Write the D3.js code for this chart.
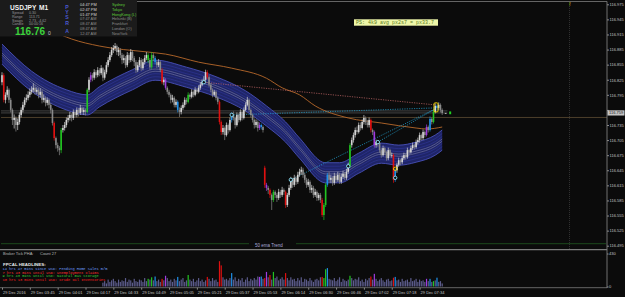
<!DOCTYPE html>
<html>
<head>
<meta charset="utf-8">
<script src="https://cdn.jsdelivr.net/npm/d3@7"></script>
<style>
  body { margin: 0; background: #0b0b0b; overflow: hidden; }
  svg { display: block; }
</style>
</head>
<body>
<svg id="target"></svg>
<script>
// USDJPY M1, 29 Dec 2016 from 03:29 - one entry per bar
const open = [
116.820,116.834,116.785,116.795,116.805,116.785,116.765,116.745,116.749,116.735,
116.741,116.755,116.765,116.775,116.785,116.789,116.795,116.801,116.805,116.809,
116.801,116.805,116.795,116.801,116.785,116.789,116.779,116.785,116.775,116.765,
116.739,116.709,116.695,116.689,116.685,116.725,116.729,116.735,116.745,116.749,
116.755,116.749,116.761,116.755,116.765,116.759,116.769,116.761,116.765,116.761,
116.805,116.825,116.834,116.829,116.840,116.834,116.844,116.838,116.848,116.829,
116.840,116.854,116.864,116.874,116.884,116.888,116.892,116.880,116.884,116.874,
116.864,116.868,116.854,116.874,116.864,116.880,116.868,116.860,116.844,116.854,
116.864,116.848,116.860,116.868,116.874,116.864,116.850,116.874,116.868,116.860,
116.854,116.860,116.844,116.820,116.825,116.809,116.801,116.795,116.785,116.789,
116.775,116.781,116.765,116.761,116.769,116.775,116.785,116.781,116.795,116.791,
116.801,116.795,116.805,116.801,116.809,116.815,116.821,116.825,116.840,116.830,
116.815,116.805,116.795,116.801,116.789,116.781,116.741,116.721,116.729,116.715,
116.735,116.725,116.745,116.755,116.749,116.735,116.755,116.745,116.761,116.749,
116.765,116.775,116.785,116.765,116.755,116.745,116.735,116.741,116.729,116.735,
116.731,116.650,116.616,116.610,116.606,116.596,116.586,116.602,116.596,116.590,
116.602,116.596,116.606,116.602,116.576,116.596,116.610,116.626,116.616,116.630,
116.622,116.636,116.642,116.646,116.636,116.626,116.616,116.622,116.606,116.610,
116.596,116.602,116.590,116.596,116.586,116.556,116.576,116.616,116.636,116.626,
116.630,116.620,116.634,116.626,116.636,116.622,116.632,116.638,116.630,116.642,
116.654,116.695,116.705,116.715,116.725,116.721,116.735,116.729,116.741,116.749,
116.740,116.735,116.745,116.725,116.721,116.695,116.701,116.699,116.685,116.675,
116.689,116.681,116.669,116.685,116.675,116.675,116.626,116.645,116.656,116.665,
116.661,116.669,116.675,116.671,116.685,116.681,116.689,116.695,116.691,116.701,
116.705,116.715,116.709,116.721,116.715,116.731,116.725,116.747,116.741,116.761,
116.773,116.769,116.775,116.765];
const high = [
116.840,116.838,116.800,116.812,116.808,116.789,116.768,116.756,116.752,116.748,
116.760,116.770,116.781,116.790,116.796,116.802,116.808,116.812,116.818,116.815,
116.810,116.809,116.808,116.805,116.796,116.792,116.790,116.788,116.779,116.768,
116.742,116.712,116.700,116.693,116.729,116.735,116.741,116.750,116.755,116.761,
116.758,116.766,116.765,116.770,116.769,116.775,116.772,116.770,116.768,116.808,
116.830,116.840,116.838,116.846,116.844,116.850,116.848,116.854,116.850,116.845,
116.860,116.870,116.880,116.890,116.894,116.898,116.895,116.890,116.888,116.878,
116.875,116.872,116.880,116.878,116.886,116.884,116.872,116.864,116.860,116.870,
116.868,116.866,116.874,116.880,116.878,116.868,116.880,116.878,116.872,116.864,
116.866,116.863,116.848,116.830,116.828,116.812,116.805,116.798,116.795,116.792,
116.786,116.784,116.770,116.774,116.780,116.790,116.789,116.800,116.798,116.806,
116.804,116.810,116.808,116.814,116.820,116.826,116.832,116.845,116.844,116.834,
116.818,116.808,116.805,116.804,116.792,116.784,116.744,116.735,116.732,116.740,
116.738,116.750,116.760,116.762,116.752,116.760,116.758,116.766,116.764,116.770,
116.780,116.791,116.788,116.768,116.758,116.748,116.746,116.744,116.740,116.738,
116.734,116.654,116.620,116.614,116.609,116.599,116.606,116.605,116.600,116.608,
116.606,116.612,116.609,116.605,116.600,116.616,116.632,116.630,116.636,116.634,
116.642,116.648,116.652,116.650,116.640,116.630,116.628,116.625,116.616,116.614,
116.608,116.605,116.600,116.600,116.590,116.580,116.620,116.640,116.642,116.636,
116.634,116.640,116.638,116.642,116.640,116.638,116.644,116.642,116.648,116.660,
116.699,116.710,116.720,116.730,116.732,116.740,116.740,116.746,116.755,116.752,
116.745,116.750,116.748,116.728,116.724,116.706,116.704,116.702,116.690,116.694,
116.692,116.684,116.690,116.688,116.680,116.678,116.649,116.660,116.670,116.668,
116.674,116.680,116.678,116.690,116.688,116.694,116.700,116.698,116.706,116.710,
116.720,116.718,116.726,116.724,116.736,116.734,116.752,116.750,116.766,116.778,
116.776,116.780,116.778,116.768];
const low = [
116.814,116.780,116.778,116.790,116.779,116.760,116.735,116.728,116.722,116.725,
116.736,116.750,116.760,116.770,116.780,116.784,116.790,116.796,116.800,116.795,
116.796,116.788,116.790,116.778,116.780,116.772,116.774,116.768,116.758,116.734,
116.704,116.688,116.682,116.675,116.679,116.720,116.724,116.730,116.740,116.744,
116.742,116.745,116.750,116.750,116.752,116.755,116.756,116.755,116.754,116.758,
116.800,116.820,116.822,116.825,116.828,116.830,116.832,116.834,116.822,116.825,
116.836,116.850,116.860,116.870,116.878,116.882,116.874,116.872,116.868,116.856,
116.858,116.848,116.850,116.858,116.860,116.862,116.852,116.838,116.840,116.850,
116.842,116.844,116.855,116.864,116.858,116.845,116.846,116.862,116.855,116.848,
116.850,116.840,116.816,116.814,116.805,116.796,116.790,116.778,116.780,116.770,
116.770,116.760,116.751,116.756,116.765,116.770,116.776,116.778,116.786,116.788,
116.790,116.792,116.796,116.798,116.805,116.812,116.818,116.822,116.826,116.810,
116.800,116.790,116.792,116.784,116.776,116.736,116.715,116.716,116.705,116.712,
116.718,116.722,116.740,116.744,116.728,116.732,116.740,116.742,116.744,116.746,
116.762,116.772,116.760,116.750,116.740,116.728,116.730,116.722,116.725,116.726,
116.720,116.610,116.604,116.598,116.590,116.566,116.582,116.590,116.582,116.586,
116.590,116.592,116.596,116.570,116.572,116.592,116.606,116.610,116.612,116.616,
116.618,116.632,116.636,116.630,116.620,116.610,116.612,116.600,116.600,116.590,
116.592,116.584,116.585,116.580,116.552,116.546,116.572,116.612,116.620,116.620,
116.614,116.616,116.620,116.622,116.618,116.618,116.628,116.625,116.626,116.638,
116.650,116.690,116.700,116.710,116.716,116.718,116.724,116.726,116.736,116.735,
116.730,116.730,116.720,116.715,116.690,116.690,116.692,116.680,116.670,116.672,
116.676,116.664,116.665,116.670,116.670,116.620,116.622,116.640,116.652,116.655,
116.657,116.665,116.666,116.668,116.676,116.678,116.685,116.686,116.688,116.696,
116.700,116.704,116.705,116.710,116.712,116.720,116.722,116.736,116.738,116.758,
116.764,116.765,116.760,116.755];
const close = [
116.834,116.785,116.795,116.805,116.785,116.765,116.745,116.749,116.735,116.741,
116.755,116.765,116.775,116.785,116.789,116.795,116.801,116.805,116.809,116.801,
116.805,116.795,116.801,116.785,116.789,116.779,116.785,116.775,116.765,116.739,
116.709,116.695,116.689,116.685,116.725,116.729,116.735,116.745,116.749,116.755,
116.749,116.761,116.755,116.765,116.759,116.769,116.761,116.765,116.761,116.805,
116.825,116.834,116.829,116.840,116.834,116.844,116.838,116.848,116.829,116.840,
116.854,116.864,116.874,116.884,116.888,116.892,116.880,116.884,116.874,116.864,
116.868,116.854,116.874,116.864,116.880,116.868,116.860,116.844,116.854,116.864,
116.848,116.860,116.868,116.874,116.864,116.850,116.874,116.868,116.860,116.854,
116.860,116.844,116.820,116.825,116.809,116.801,116.795,116.785,116.789,116.775,
116.781,116.765,116.761,116.769,116.775,116.785,116.781,116.795,116.791,116.801,
116.795,116.805,116.801,116.809,116.815,116.821,116.825,116.840,116.830,116.815,
116.805,116.795,116.801,116.789,116.781,116.741,116.721,116.729,116.715,116.735,
116.725,116.745,116.755,116.749,116.735,116.755,116.745,116.761,116.749,116.765,
116.775,116.785,116.765,116.755,116.745,116.735,116.741,116.729,116.735,116.731,
116.725,116.616,116.610,116.606,116.596,116.586,116.602,116.596,116.590,116.602,
116.596,116.606,116.602,116.576,116.596,116.610,116.626,116.616,116.630,116.622,
116.636,116.642,116.646,116.636,116.626,116.616,116.622,116.606,116.610,116.596,
116.602,116.590,116.596,116.586,116.556,116.576,116.616,116.636,116.626,116.630,
116.620,116.634,116.626,116.636,116.622,116.632,116.638,116.630,116.642,116.654,
116.695,116.705,116.715,116.725,116.721,116.735,116.729,116.741,116.749,116.740,
116.735,116.745,116.725,116.721,116.695,116.701,116.699,116.685,116.675,116.689,
116.681,116.669,116.685,116.675,116.675,116.626,116.645,116.656,116.665,116.661,
116.669,116.675,116.671,116.685,116.681,116.689,116.695,116.691,116.701,116.705,
116.715,116.709,116.721,116.715,116.731,116.725,116.747,116.741,116.761,116.773,
116.769,116.775,116.765,116.759];

// bars painted by the volume-spread indicator
const redBars = [1, 30, 92, 118, 125, 126, 151, 154, 163, 184, 212, 225];
const greenBars = [34, 49, 84, 86, 107, 156, 185, 186, 200, 248];
const blueBars = [88, 101, 132, 149, 187, 226, 246, 250];
const purpleBars = [51, 94, 148, 152, 214, 244];

// tick volume, from bar 58 on
const volStart = 58;
const volume = [
50,70,40,90,60,80,100,70,50,90,60,80,
70,110,60,90,80,50,100,70,60,90,
80,60,110,70,100,90,120,80,130,70,
90,60,100,80,140,110,70,90,60,100,
80,125,70,90,110,60,80,150,90,70,
100,60,80,110,70,90,60,80,125,100,
70,110,80,90,60,330,275,120,90,100,
80,110,175,90,120,70,100,80,110,60,
90,120,70,100,80,110,90,130,125,130,
100,110,190,120,150,90,190,110,130,80,
100,120,90,175,110,80,120,90,100,70,
110,80,120,60,100,90,70,110,80,60,
90,100,80,120,125,110,225,240,100,90,
80,110,70,90,120,60,100,80,70,90,
140,110,80,100,90,120,70,90,60,100,
80,110,130,90,165,100,70,90,110,80,
60,90,100,70,80,115,125,80,90,60,
100,70,80,90,60,110,70,80,100,60,
90,70,80,60,100,70,100,60,70,80,
115,60,70,40];
const volTicks = [0, 430];

// envelope band centre and slow MA (bar index, price)
const bandIdx = [0, 17, 37, 49, 56, 75, 88, 106, 123, 140, 152, 163, 171, 186, 194, 205, 218, 228, 238, 249, 253];
const bandMid = [116.876, 116.822, 116.785, 116.775, 116.791, 116.825, 116.844, 116.830, 116.811, 116.783, 116.753,
                 116.721, 116.689, 116.640, 116.640, 116.659, 116.679, 116.675, 116.681, 116.695, 116.705];
const maIdx = [34, 40, 56, 84, 94, 113, 132, 152, 161, 171, 180, 199, 218, 238, 244, 253];
const maVal = [116.914, 116.906, 116.892, 116.880, 116.876, 116.860, 116.848, 116.828, 116.809, 116.795,
               116.773, 116.749, 116.739, 116.729, 116.727, 116.731];

// swing points and the lines drawn from them
const ringIdx = [116, 132, 166, 199, 216, 226];
const ringVal = [116.820, 116.755, 116.626, 116.653, 116.701, 116.630];
const yellowRing = {i: 226, v: 116.648};
const redLine = [{i: 116, v: 116.820}, {i: 249, v: 116.775}];
const cyanLines = [
  [{i: 132, v: 116.755}, {i: 249, v: 116.769}],
  [{i: 166, v: 116.626}, {i: 249, v: 116.767}],
  [{i: 216, v: 116.701}, {i: 249, v: 116.767}]
];

const bid = 116.759, ask = 116.763, dayLevel = 116.750, trendLevel = 116.499;
const priceTicks = [116.975, 116.945, 116.915, 116.885, 116.855, 116.825, 116.795, 116.765, 116.735,
                    116.705, 116.675, 116.645, 116.615, 116.585, 116.555, 116.525, 116.495];
const timeIdx = [0, 16, 32, 48, 64, 80, 96, 112, 128, 144, 160, 176, 192, 208, 224, 240];
const timeLabels = ["29 Dec 2016", "29 Dec 03:45", "29 Dec 04:01", "29 Dec 04:17", "29 Dec 04:33",
  "29 Dec 04:49", "29 Dec 05:05", "29 Dec 05:21", "29 Dec 05:37", "29 Dec 05:53", "29 Dec 06:14",
  "29 Dec 06:30", "29 Dec 06:46", "29 Dec 07:02", "29 Dec 07:18", "29 Dec 07:34"];

// info panel text
const symbol = "USDJPY", period = "M1";
const infoLabels = ["Spread", "Range", "Swaps", "Candle"];
const infoValues = ["0.30", "113.71", "2.73, -4.62", "00:00:16"];
const sessionLetters = ["P", "Y", "S", "R", "A"];
const sessionTimes = ["04:47 PM", "02:47 PM", "01:47 PM", "07:47 AM", "08:47 AM", "08:47 AM", "12:47 AM"];
const sessionCities = ["Sydney", "Tokyo", "HongKong (L)", "Helsinki (B)", "Frankfurt", "London (O)", "NewYork"];
const sessionOpen = [true, true, true, false, false, false, false];
const headlines = ["14 hrs 47 mins since USD: Pending Home Sales m/m",
  "7 hrs 43 mins until USD: Unemployment Claims",
  "9 hrs 43 mins until USD: Natural Gas Storage",
  "10 hrs 13 mins until USD: Crude Oil Inventories"];
const headlineColors = ["#6f9fff", "#ff3030", "#38d038", "#ff2020"];
const noteText = "PS: 4k9 avg px2s7 = px33.7";

function main() {
    let svg = d3.select("#target")
        .attr("width", 625)
        .attr("height", 297)
        .style("font-family", "'Liberation Sans', Arial, sans-serif");

    svg.append("rect").attr("width", 625).attr("height", 297).attr("fill", "#0b0b0b");

    let x = d3.scaleLinear().domain([0, close.length - 1]).range([2, 442.2]);
    let y = d3.scaleLinear().domain([116.495, 116.975]).range([245.7, 4.3]);
    let yv = d3.scaleLinear().domain([0, 430]).range([286.5, 253.5]);

    // horizontal levels
    svg.append("line")
        .attr("x1", 1).attr("x2", 607)
        .attr("y1", y(dayLevel)).attr("y2", y(dayLevel))
        .attr("stroke", "#5e4c34").attr("stroke-width", 0.8);
    [ask, bid].forEach(p => {
        svg.append("line")
            .attr("x1", 1).attr("x2", x(close.length + 2))
            .attr("y1", y(p)).attr("y2", y(p))
            .attr("stroke", "#6a6a6a").attr("stroke-width", 0.6);
    });

    // 50 ema trend line + label
    svg.append("line").attr("x1", 1).attr("x2", 249)
        .attr("y1", y(trendLevel)).attr("y2", y(trendLevel))
        .attr("stroke", "#1d4f1d").attr("stroke-width", 0.9);
    svg.append("line").attr("x1", 296).attr("x2", 606)
        .attr("y1", y(trendLevel)).attr("y2", y(trendLevel))
        .attr("stroke", "#1d4f1d").attr("stroke-width", 0.9);
    svg.append("text").attr("x", 255).attr("y", y(trendLevel) + 3.2)
        .attr("font-size", 4.5).attr("fill", "#a8a8d8").text("50 ema Trend");

    // vertical dotted marker
    svg.append("line").attr("x1", 569.5).attr("x2", 569.5).attr("y1", 2).attr("y2", 249)
        .attr("stroke", "#4a4a4a").attr("stroke-width", 0.6).attr("stroke-dasharray", "1,1");
    svg.append("text").attr("x", 569.3).attr("y", 6).attr("font-size", 4.5)
        .attr("fill", "#c8c000").text("f");

    // envelope band
    let bandPts = bandIdx.map((i, k) => ({i: i, v: bandMid[k]}));
    let area = d3.area()
        .x(d => x(d.i))
        .y0(d => y(d.v - 0.020))
        .y1(d => y(d.v + 0.020))
        .curve(d3.curveMonotoneX);
    svg.append("path").datum(bandPts).attr("d", area).attr("fill", "#1f2568");
    let bandLines = [
        [-0.020, "#4850b8", 0.9], [0.020, "#4850b8", 0.9],
        [-0.013, "#30379a", 0.6], [0.013, "#30379a", 0.6],
        [-0.007, "#30379a", 0.6], [0.007, "#30379a", 0.6],
        [-0.0022, "#8c8cb4", 0.5], [0.0022, "#8c8cb4", 0.5]
    ];
    bandLines.forEach(b => {
        let line = d3.line().x(d => x(d.i)).y(d => y(d.v + b[0])).curve(d3.curveMonotoneX);
        svg.append("path").datum(bandPts).attr("d", line)
            .attr("fill", "none").attr("stroke", b[1]).attr("stroke-width", b[2]);
    });

    // slow MA
    let maPts = maIdx.map((i, k) => ({i: i, v: maVal[k]}));
    svg.append("path").datum(maPts)
        .attr("d", d3.line().x(d => x(d.i)).y(d => y(d.v)).curve(d3.curveMonotoneX))
        .attr("fill", "none").attr("stroke", "#b8692a").attr("stroke-width", 0.9);

    // dotted swing lines
    let seg = d3.line().x(d => x(d.i)).y(d => y(d.v));
    svg.append("path").datum(redLine).attr("d", seg)
        .attr("stroke", "#c86a6a").attr("stroke-width", 0.7).attr("stroke-dasharray", "1.2,1.2");
    cyanLines.forEach(l => {
        svg.append("path").datum(l).attr("d", seg)
            .attr("stroke", "#22a8d8").attr("stroke-width", 0.7).attr("stroke-dasharray", "1.2,1.2");
    });

    // candles
    function tone(i) {
        if (redBars.includes(i)) return "#e01010";
        if (greenBars.includes(i)) return "#22c422";
        if (blueBars.includes(i)) return "#2090e8";
        if (purpleBars.includes(i)) return "#a03ce0";
        return close[i] >= open[i] ? "#d4d4d4" : "#8a8a8a";
    }
    let bars = d3.range(close.length);
    let cg = svg.append("g");
    cg.selectAll("line").data(bars).enter().append("line")
        .attr("x1", i => x(i)).attr("x2", i => x(i))
        .attr("y1", i => y(high[i])).attr("y2", i => y(low[i]))
        .attr("stroke", tone).attr("stroke-width", 0.7);
    cg.selectAll("rect").data(bars).enter().append("rect")
        .attr("x", i => x(i) - 0.8)
        .attr("width", 1.6)
        .attr("y", i => y(Math.max(open[i], close[i])))
        .attr("height", i => Math.max(0.6, Math.abs(y(open[i]) - y(close[i]))))
        .attr("fill", tone);

    // swing rings
    svg.append("g").selectAll("circle").data(ringIdx).enter().append("circle")
        .attr("cx", (d, k) => x(d)).attr("cy", (d, k) => y(ringVal[k])).attr("r", 1.7)
        .attr("fill", "#0b0b0b").attr("stroke", "#8fe6ff").attr("stroke-width", 0.9);
    svg.append("circle").attr("cx", x(yellowRing.i)).attr("cy", y(yellowRing.v)).attr("r", 1.7)
        .attr("fill", "none").attr("stroke", "#ffe000").attr("stroke-width", 0.9);

    // last-price box and arrow marker
    svg.append("rect")
        .attr("x", x(248.3)).attr("y", y(116.779))
        .attr("width", x(250.6) - x(248.3)).attr("height", y(116.761) - y(116.779))
        .attr("rx", 1).attr("fill", "none").attr("stroke", "#ffe000").attr("stroke-width", 0.9);
    svg.append("rect").attr("x", x(257)).attr("y", y(bid) - 1.5).attr("width", 2).attr("height", 2.8)
        .attr("fill", "#20d020");
    svg.append("line").attr("x1", x(254.5)).attr("x2", x(255.5)).attr("y1", y(bid) + 0.5).attr("y2", y(bid) + 0.5)
        .attr("stroke", "#e0e0e0").attr("stroke-width", 0.8);

    // volume histogram
    let vg = svg.append("g");
    vg.selectAll("rect").data(volume).enter().append("rect")
        .attr("x", (d, k) => x(k + volStart) - 0.6)
        .attr("width", 1.2)
        .attr("y", d => yv(d))
        .attr("height", d => yv(0) - yv(d))
        .attr("fill", (d, k) => {
            let i = k + volStart;
            let c = tone(i);
            return (c === "#d4d4d4" || c === "#8a8a8a") ? "#5c5c8c" : c;
        });

    // frames
    let frame = svg.append("g").attr("stroke", "#7c7c7c");
    frame.append("line").attr("x1", 0).attr("x2", 607).attr("y1", 1.5).attr("y2", 1.5).attr("stroke-width", 0.8);
    frame.append("line").attr("x1", 607).attr("x2", 607).attr("y1", 1.5).attr("y2", 288).attr("stroke-width", 0.9);
    frame.append("line").attr("x1", 0).attr("x2", 607).attr("y1", 249.6).attr("y2", 249.6).attr("stroke-width", 1.3);
    frame.append("line").attr("x1", 0).attr("x2", 607).attr("y1", 287.7).attr("y2", 287.7).attr("stroke-width", 0.8);

    // price axis (the label under the bid box is covered, as in the terminal)
    let pa = svg.append("g").attr("transform", "translate(607,0)")
        .call(d3.axisRight(y).tickValues(priceTicks).tickSize(2).tickPadding(0.5)
            .tickFormat(d => Math.abs(d - bid) < 0.008 ? "" : d3.format(".3f")(d)));
    pa.select(".domain").remove();
    pa.selectAll("line").attr("stroke", "#8a8a8a");
    pa.selectAll("text").attr("font-size", 4).attr("fill", "#c4c4c4")
        .attr("font-family", "'Liberation Sans', Arial, sans-serif");

    // bid label
    svg.append("rect").attr("x", 607.5).attr("y", y(bid) - 2.6).attr("width", 17).attr("height", 5.2)
        .attr("fill", "#c4c4c4");
    svg.append("text").attr("x", 609).attr("y", y(bid) + 1.45).attr("font-size", 4)
        .attr("fill", "#1a1a1a").text(d3.format(".3f")(bid));

    // volume axis
    let va = svg.append("g").attr("transform", "translate(607,0)")
        .call(d3.axisRight(yv).tickValues(volTicks).tickSize(1.5).tickPadding(0.5));
    va.select(".domain").remove();
    va.selectAll("line").attr("stroke", "#8a8a8a");
    va.selectAll("text").attr("font-size", 4).attr("fill", "#c4c4c4")
        .attr("font-family", "'Liberation Sans', Arial, sans-serif");

    // time axis
    let ta = svg.append("g").attr("transform", "translate(0,287.7)")
        .call(d3.axisBottom(x).tickValues(timeIdx).tickSize(2).tickPadding(1)
            .tickFormat((d, k) => timeLabels[k]));
    ta.select(".domain").remove();
    ta.selectAll("line").attr("stroke", "#8a8a8a");
    ta.selectAll("text").attr("font-size", 4).attr("fill", "#c4c4c4")
        .attr("text-anchor", "start").attr("x", 0.5)
        .attr("font-family", "'Liberation Sans', Arial, sans-serif");

    // info panel
    let info = svg.append("g");
    info.append("rect").attr("x", 0).attr("y", 0).attr("width", 137).attr("height", 36.5)
        .attr("fill", "#1b1b1b");
    info.append("text").attr("x", 10).attr("y", 10).attr("font-size", 6.6).attr("font-weight", "bold")
        .attr("fill", "#f2f2f2").text(symbol);
    info.append("text").attr("x", 39).attr("y", 10).attr("font-size", 6.6).attr("font-weight", "bold")
        .attr("fill", "#f2f2f2").text(period);
    infoLabels.forEach((t, k) => {
        info.append("text").attr("x", 12).attr("y", 13.7 + k * 3.9).attr("font-size", 3.6)
            .attr("fill", "#9a9a9a").text(t);
        info.append("text").attr("x", 29).attr("y", 13.7 + k * 3.9).attr("font-size", 3.6)
            .attr("fill", "#9a9a9a").text(infoValues[k]);
    });
    info.append("text").attr("x", 15).attr("y", 35).attr("font-size", 10).attr("font-weight", "bold")
        .attr("fill", "#3cd23c").text(d3.format(".2f")(116.76));
    info.append("text").attr("x", 48).attr("y", 34.5).attr("font-size", 5)
        .attr("fill", "#c8c8c8").text("0");
    sessionLetters.forEach((t, k) => {
        info.append("text").attr("x", 67).attr("y", [8.6, 14, 19, 25, 32.5][k])
            .attr("font-size", 5.2).attr("font-weight", "bold").attr("text-anchor", "middle")
            .attr("fill", "#4a5ad0").text(t);
    });
    sessionTimes.forEach((t, k) => {
        let yy = 6.1 + k * 4.75;
        info.append("text").attr("x", 80).attr("y", yy).attr("font-size", 3.9)
            .attr("fill", sessionOpen[k] ? "#d8d8d8" : "#8c8c8c").text(t);
        info.append("text").attr("x", 112).attr("y", yy).attr("font-size", 3.9)
            .attr("fill", sessionOpen[k] ? "#5cc83a" : "#8c8c8c").text(sessionCities[k]);
    });

    // note box
    svg.append("rect").attr("x", 354).attr("y", 19.3).attr("width", 84).attr("height", 6.4)
        .attr("fill", "#eef6a8");
    svg.append("text").attr("x", 356).attr("y", 24.2).attr("font-size", 5)
        .attr("font-family", "'Liberation Mono', monospace").attr("fill", "#5a7a20").text(noteText);

    // sub-window texts
    svg.append("text").attr("x", 3).attr("y", 255.4).attr("font-size", 4).attr("fill", "#b8b8b8")
        .text("Broker Tick PHA:");
    svg.append("text").attr("x", 40).attr("y", 255.4).attr("font-size", 4).attr("fill", "#b8b8b8")
        .text("Count 27");
    svg.append("text").attr("x", 3).attr("y", 265.6).attr("font-size", 4.4).attr("font-weight", "bold")
        .attr("fill", "#e8e8e8").text("FPCAL HEADLINES:");
    headlines.forEach((t, k) => {
        svg.append("text").attr("x", 2.5).attr("y", 269.6 + k * 3.9).attr("font-size", 3.65)
            .attr("font-family", "'Liberation Mono', monospace")
            .attr("fill", headlineColors[k]).text(t);
    });
}

main();
</script>
</body>
</html>
